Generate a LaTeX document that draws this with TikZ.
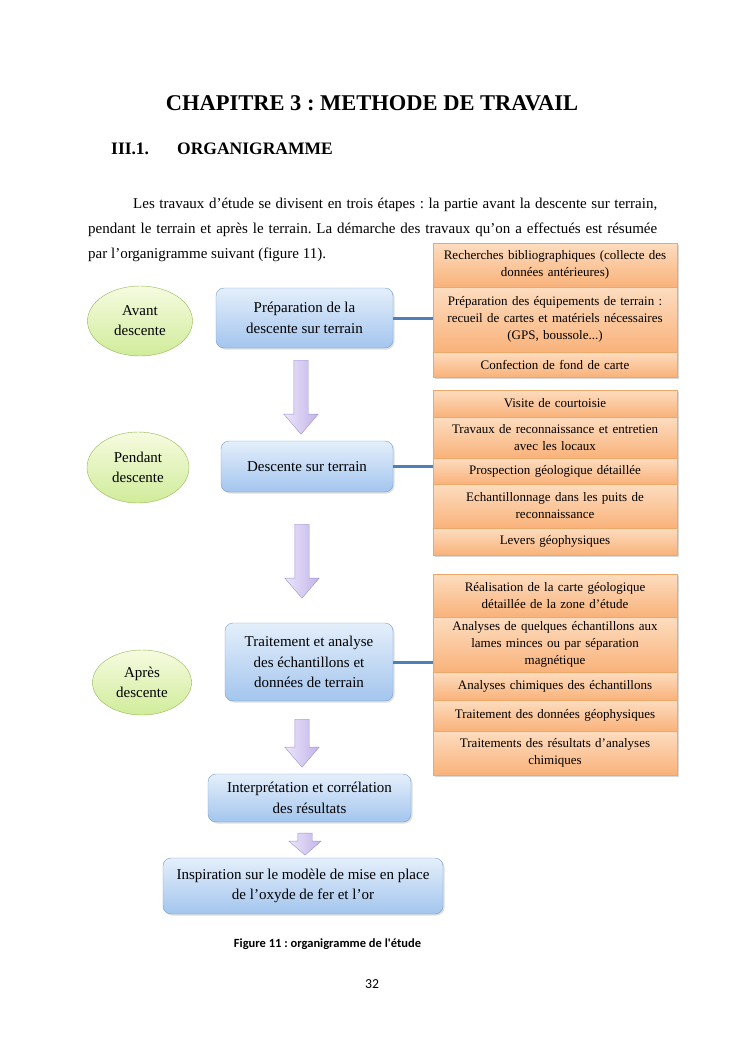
\documentclass[tikz,border=0pt]{standalone}
\usepackage{fontspec}
\setmainfont{Liberation Serif}
\newfontfamily\calibri{Carlito}
\usetikzlibrary{shapes.geometric,shapes.arrows,shadows}
\definecolor{vertBord}{HTML}{98B856}
\definecolor{vertHaut}{HTML}{F6FBE0}
\definecolor{vertBas}{HTML}{D0EC9A}
\definecolor{bleuBord}{HTML}{7A9FD2}
\definecolor{bleuHaut}{HTML}{E4EFFB}
\definecolor{bleuBas}{HTML}{A3C5EE}
\definecolor{orangeBord}{HTML}{F0A868}
\definecolor{orangeHaut}{HTML}{FDDDC0}
\definecolor{orangeBas}{HTML}{F9B27A}
\definecolor{violetBord}{HTML}{A092D2}
\definecolor{violetHaut}{HTML}{ECE6FA}
\definecolor{violetBas}{HTML}{C2B3E8}
\definecolor{lienBleu}{HTML}{4F7FB8}
\newcommand{\txtcorps}{\fontsize{15}{25}\selectfont}
\frenchspacing

\begin{document}
\begin{tikzpicture}[x=1pt,y=-1pt,
	etape/.style={ellipse, draw=vertBord, top color=vertHaut, bottom color=vertBas, align=center, font=\fontsize{15}{20}\selectfont, inner sep=0pt},
	boite/.style={rectangle, rounded corners=8pt, draw=bleuBord, top color=bleuHaut, bottom color=bleuBas, align=center, font=\fontsize{15}{20.5}\selectfont,
		drop shadow={shadow xshift=1.5pt, shadow yshift=-1.5pt, opacity=0.25}},
	tache/.style={rectangle, draw=orangeBord, top color=orangeHaut, bottom color=orangeBas, minimum width=244pt, text width=238pt, inner sep=0pt, align=center,
		font=\fontsize{13}{17}\selectfont, drop shadow={shadow xshift=2pt, shadow yshift=-2pt, opacity=0.3}},
	fleche/.style={single arrow, draw=violetBord, left color=violetHaut, right color=violetBas, rotate=-90, inner sep=7pt,
		single arrow head extend=10pt, minimum width=34pt, single arrow tip angle=81},
	lien/.style={draw=lienBleu, line width=3pt}]
	\useasboundingbox[fill=white] (0,0) rectangle (745,1053);
	% en-tete de la page
	\node[font=\fontsize{22.5}{27}\selectfont\bfseries, anchor=base] (titre) at (372,110) {CHAPITRE 3 : METHODE DE TRAVAIL};
	\node[font=\fontsize{17.5}{21}\selectfont\bfseries, anchor=base west, inner sep=0pt] (num) at (111,154) {III.1.};
	\node[font=\fontsize{17.5}{21}\selectfont\bfseries, anchor=base west, inner sep=0pt] (sect) at (177,154) {ORGANIGRAMME};
	\node[font=\txtcorps, anchor=north west, inner sep=0pt, text width=569pt, align=justify] (texte) at (88,198)
	{\hspace*{45pt}Les travaux d’étude se divisent en trois étapes : la partie avant la descente sur terrain,\linebreak
		pendant le terrain et après le terrain. La démarche des travaux qu’on a effectués est résumée\linebreak
		par l’organigramme suivant (figure 11).};
	% etapes
	\node[etape, minimum width=105pt, minimum height=70pt] (avant) at (140,321) {Avant\\descente};
	\node[etape, minimum width=102pt, minimum height=71pt] (pendant) at (138,467.5) {Pendant\\descente};
	\node[etape, minimum width=99pt, minimum height=65pt] (apres) at (142,682.5) {Après\\descente};
	% boites principales
	\node[boite, minimum width=177pt, minimum height=60pt] (prep) at (304.5,318) {Préparation de la\\descente sur terrain};
	\node[boite, minimum width=172pt, minimum height=51pt] (desc) at (307,466.5) {Descente sur terrain};
	\node[boite, minimum width=168pt, minimum height=78pt] (trait) at (309,662) {Traitement et analyse\\des échantillons et\\données de terrain};
	\node[boite, minimum width=203pt, minimum height=48pt] (interp) at (309.5,798) {Interprétation et corrélation\\des résultats};
	\node[boite, minimum width=280pt, minimum height=56pt] (inspi) at (303,886) {Inspiration sur le modèle de mise en place\\de l’oxyde de fer et l’or};
	% taches avant descente
	\node[tache, minimum height=44pt] (r1) at (555,265) {Recherches bibliographiques (collecte des\\données antérieures)};
	\node[tache, minimum height=65pt] (r2) at (555,319.5) {Préparation des équipements de terrain :\\recueil de cartes et matériels nécessaires\\(GPS, boussole...)};
	\node[tache, minimum height=25pt] (r3) at (555,364.5) {Confection de fond de carte};
	% taches pendant descente
	\node[tache, minimum height=27pt] (s1) at (555,403.5) {Visite de courtoisie};
	\node[tache, minimum height=41pt] (s2) at (555,437.5) {Travaux de reconnaissance et entretien\\avec les locaux};
	\node[tache, minimum height=26pt] (s3) at (555,471) {Prospection géologique détaillée};
	\node[tache, minimum height=44pt] (s4) at (555,506) {Echantillonnage dans les puits de\\reconnaissance};
	\node[tache, minimum height=27pt] (s5) at (555,541.5) {Levers géophysiques};
	% taches apres descente
	\node[tache, minimum height=43pt] (t1) at (555,595.5) {Réalisation de la carte géologique\\détaillée de la zone d’étude};
	\node[tache, minimum height=55pt] (t2) at (555,644.5) {Analyses de quelques échantillons aux\\lames minces ou par séparation\\magnétique};
	\node[tache, minimum height=28pt] (t3) at (555,686) {Analyses chimiques des échantillons};
	\node[tache, minimum height=31pt] (t4) at (555,715.5) {Traitement des données géophysiques};
	\node[tache, minimum height=44pt] (t5) at (555,753) {Traitements des résultats d’analyses\\chimiques};
	% liaisons
	\path[lien] (prep.east) -- (prep.east -| r2.west)
	(desc.east) -- (desc.east -| s3.west)
	(trait.east) -- (trait.east -| t2.west);
	% fleches
	\node[fleche, minimum height=74pt] (f1) at (301,393) {};
	\node[fleche, minimum height=74pt] (f2) at (302,557) {};
	\node[fleche, minimum height=48pt] (f3) at (302,739) {};
	\node[fleche, minimum height=22pt, minimum width=32pt, single arrow head extend=9pt, single arrow tip angle=98] (f4) at (305,841) {};
	% legende
	\node[font=\calibri\bfseries\fontsize{12.5}{15}\selectfont, anchor=base] (legende) at (327.5,947) {Figure 11 : organigramme de l'étude};
	\node[font=\calibri\fontsize{13.75}{16}\selectfont, anchor=base] (page) at (372,988) {32};
\end{tikzpicture}
\end{document}
